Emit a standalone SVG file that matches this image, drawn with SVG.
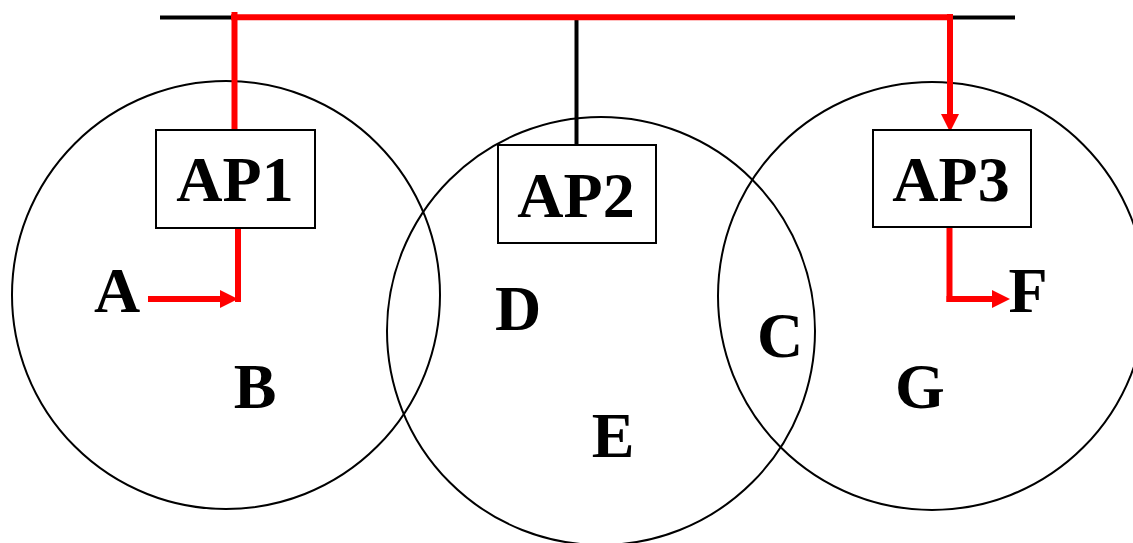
<svg xmlns="http://www.w3.org/2000/svg" width="1133" height="543" viewBox="0 0 1133 543">
<style>
.cell{fill:none;stroke:#000;stroke-width:2}
.box{fill:#fff;stroke:#000;stroke-width:2}
.lbl{font-family:"Liberation Serif","Times New Roman",serif;font-weight:bold;font-size:64px;text-anchor:middle;fill:#000}
.red{fill:none;stroke:#ff0000;stroke-width:6}
.blk{fill:none;stroke:#000;stroke-width:4}
</style>
<defs>
<marker id="ah" markerUnits="userSpaceOnUse" viewBox="0 -10 20 20" markerWidth="20" markerHeight="20" refX="0" refY="0" orient="auto">
<path d="M0,-9 L18,0 L0,9 z" fill="#ff0000"/>
</marker>
</defs>
<g id="cells">
<circle class="cell" cx="226" cy="295" r="214"/>
<circle class="cell" cx="601" cy="331" r="214"/>
<circle class="cell" cx="932" cy="296" r="214"/>
</g>
<g id="connectors">
<line class="blk" x1="160" y1="17.5" x2="1015" y2="17.5" stroke-width="5"/>
<line class="blk" x1="576.5" y1="17" x2="576.5" y2="145" stroke-width="3"/>
<line class="red" x1="231" y1="17.3" x2="953" y2="17.3" stroke-width="6.5"/>
<line class="red" x1="234.5" y1="12" x2="234.5" y2="131"/>
<line class="red" x1="950" y1="14" x2="950" y2="114" marker-end="url(#ah)"/>
<line class="red" x1="238" y1="226" x2="238" y2="302"/>
<line class="red" x1="148" y1="299" x2="220" y2="299" marker-end="url(#ah)"/>
<line class="red" x1="949.5" y1="226" x2="949.5" y2="302"/>
<line class="red" x1="946.5" y1="299" x2="992" y2="299" marker-end="url(#ah)"/>
</g>
<g id="AP1"><rect class="box" x="156" y="130" width="159" height="98"/><text class="lbl" x="235" y="201">AP1</text></g>
<g id="AP2"><rect class="box" x="498" y="145" width="158" height="98"/><text class="lbl" x="576" y="217">AP2</text></g>
<g id="AP3"><rect class="box" x="873" y="130" width="158" height="97"/><text class="lbl" x="951" y="201">AP3</text></g>
<g id="A"><text class="lbl" x="117" y="312">A</text></g>
<g id="B"><text class="lbl" x="255" y="408">B</text></g>
<g id="C"><text class="lbl" x="780" y="357">C</text></g>
<g id="D"><text class="lbl" x="518" y="330">D</text></g>
<g id="E"><text class="lbl" x="613" y="457">E</text></g>
<g id="F"><text class="lbl" x="1028" y="312">F</text></g>
<g id="G"><text class="lbl" x="920" y="408">G</text></g>
</svg>
